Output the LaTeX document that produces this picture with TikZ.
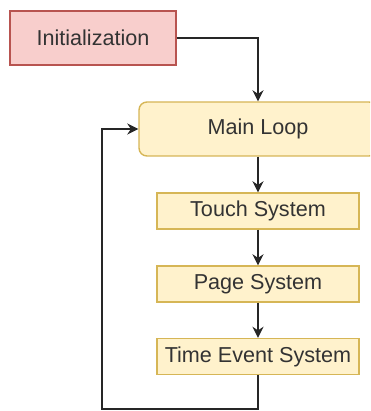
\documentclass[tikz,border=0pt]{standalone}
\usepackage{fontspec}
\setmainfont{Liberation Sans}
\usepackage{tikz}
\usetikzlibrary{arrows.meta}
\definecolor{initfill}{HTML}{F8CECC}
\definecolor{initdraw}{HTML}{B85450}
\definecolor{sysfill}{HTML}{FFF2CC}
\definecolor{sysdraw}{HTML}{D6B656}
\definecolor{txt}{HTML}{333333}
\tikzstyle{startbox} = [rectangle, minimum width=83pt, minimum height=27pt, text centered, draw=initdraw, fill=initfill, line width=0.7pt]
\tikzstyle{loopbox}  = [rectangle, rounded corners=4pt, minimum width=119pt, minimum height=27pt, text centered, draw=sysdraw, fill=sysfill, line width=0.7pt]
\tikzstyle{sysbox}   = [rectangle, minimum width=101pt, minimum height=18pt, text centered, draw=sysdraw, fill=sysfill, line width=0.7pt]
\tikzstyle{arrow}    = [line width=0.9pt, draw=black!85, -{Stealth[length=5.5pt, width=5.5pt]}]
\tikzset{every node/.style={align=center, text=txt, font=\fontsize{10.8}{13}\selectfont, inner sep=0pt}}

\begin{document}
\begin{tikzpicture}[x=0.5pt, y=-0.5pt]
    \clip (0,0) rectangle (370,411);
    \node (init) at ( 93,  38)   [startbox] {Initialization};
    \node (main) at (258, 129)   [loopbox]  {Main Loop};
    \node (tch)  at (258, 211)   [sysbox]   {Touch System};
    \node (pg)   at (258, 284)   [sysbox]   {Page System};
    \node (tev)  at (258, 356.5) [sysbox]   {Time Event System};
    \coordinate (back) at (102, 409);

    \draw [arrow] (init.east) -| (main.north);
    \draw [arrow] (main) -- (tch);
    \draw [arrow] (tch)  -- (pg);
    \draw [arrow] (pg)   -- (tev);
    \draw [arrow] (tev.south) |- (back) |- (main.west);
\end{tikzpicture}
\end{document}
